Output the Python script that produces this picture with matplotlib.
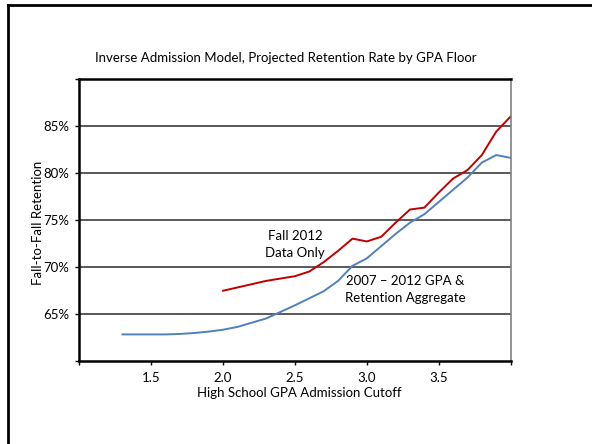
import matplotlib.pyplot as plt
from matplotlib.lines import Line2D

plt.rcParams['font.family'] = ['Lato', 'DejaVu Sans']

# GPA cutoff (x) and retention rate (%) for both series
gpa_agg = [1.3, 1.4, 1.5, 1.6, 1.7, 1.8, 1.9, 2.0, 2.1, 2.2, 2.3, 2.4, 2.5, 2.6, 2.7,
           2.8, 2.9, 3.0, 3.1, 3.2, 3.3, 3.4, 3.5, 3.6, 3.7, 3.8, 3.9, 4.0]
ret_agg = [62.8, 62.8, 62.8, 62.8, 62.85, 62.95, 63.1, 63.3, 63.6, 64.05, 64.5, 65.2, 65.9,
           66.65, 67.4, 68.5, 70.1, 70.9, 72.2, 73.5, 74.7, 75.6, 76.9, 78.2, 79.5, 81.1,
           81.9, 81.6]

gpa_2012 = [2.0, 2.1, 2.2, 2.3, 2.4, 2.5, 2.6, 2.7, 2.8, 2.9, 3.0, 3.1, 3.2, 3.3, 3.4,
            3.5, 3.6, 3.7, 3.8, 3.9, 4.0]
ret_2012 = [67.45, 67.8, 68.15, 68.5, 68.75, 69.0, 69.5, 70.5, 71.7, 73.0, 72.7, 73.2,
            74.7, 76.1, 76.3, 77.9, 79.4, 80.3, 81.9, 84.4, 86.0]

x_ticks = [1.0, 1.5, 2.0, 2.5, 3.0, 3.5, 4.0]
x_labels = ['', '1.5', '2.0', '2.5', '3.0', '3.5', '']
y_ticks = [60, 65, 70, 75, 80, 85, 90]
y_labels = ['', '65%', '70%', '75%', '80%', '85%', '']

fig = plt.figure(figsize=(5.92, 4.44), dpi=100)
ax = fig.add_axes([0.134, 0.1876, 0.7285, 0.6345])

ax.plot(gpa_agg, ret_agg, color='#4F81BD', lw=1.4)
ax.plot(gpa_2012, ret_2012, color='#C00000', lw=1.4)

ax.set_xlim(1.0, 4.0)
ax.set_ylim(60, 90)
ax.set_xticks(x_ticks)
ax.set_xticklabels(x_labels)
ax.set_yticks(y_ticks)
ax.set_yticklabels(y_labels)
ax.tick_params(direction='out', length=3, width=1, labelsize=9.5, colors='black')
ax.tick_params(axis='x', pad=5)
ax.tick_params(axis='y', pad=4)

for y in y_ticks[1:-1]:
    ax.axhline(y, color='#595959', lw=1.4, zorder=0)

for s in ['left', 'bottom', 'top']:
    ax.spines[s].set_linewidth(1.8)
    ax.spines[s].set_color('black')
ax.spines['right'].set_linewidth(1.2)
ax.spines['right'].set_color('#808080')

ax.text(2.5, 72.4, 'Fall 2012\nData Only', ha='center', va='center',
        fontsize=9.5, linespacing=1.5)
ax.text(3.27, 67.6, '2007 – 2012 GPA &\nRetention Aggregate', ha='center', va='center',
        fontsize=9.5, linespacing=1.5)

fig.text(0.483, 0.869, 'Inverse Admission Model, Projected Retention Rate by GPA Floor',
         ha='center', va='center', fontsize=9.5)
fig.text(0.506, 0.115, 'High School GPA Admission Cutoff', ha='center', va='center',
         fontsize=9.5)
fig.text(0.0637, 0.497, 'Fall-to-Fall Retention', ha='center', va='center',
         rotation=90, fontsize=9.5)

# outer slide border (top and left edges visible)
fig.add_artist(Line2D([0.0127, 1.0], [0.988, 0.988], transform=fig.transFigure,
                      color='black', lw=2.0))
fig.add_artist(Line2D([0.0127, 0.0127], [0.0, 0.988], transform=fig.transFigure,
                      color='black', lw=2.0))

fig.savefig('out.png', dpi=100)
